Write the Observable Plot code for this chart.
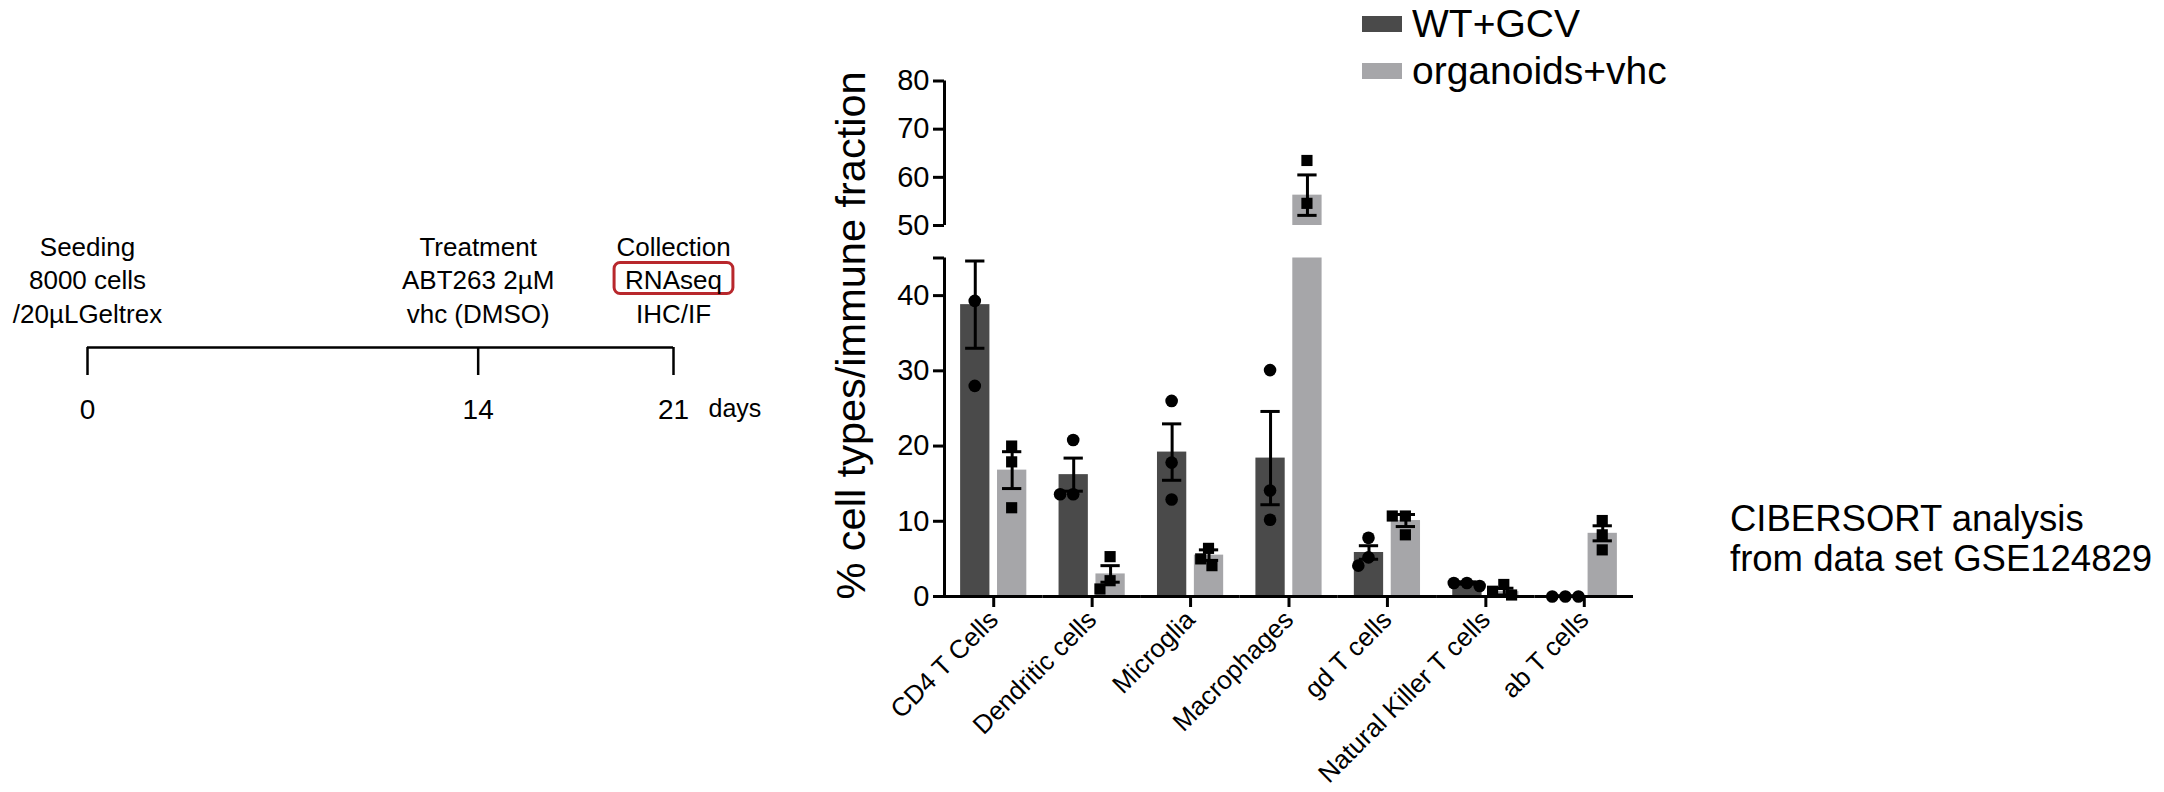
<!DOCTYPE html>
<html>
<head>
<meta charset="utf-8">
<script src="https://cdn.jsdelivr.net/npm/d3@7"></script>
<script src="https://cdn.jsdelivr.net/npm/@observablehq/plot@0.6"></script>
<style>
html, body { margin: 0; padding: 0; background: #fff; }
#page { position: relative; width: 2164px; height: 792px; overflow: hidden; background: #fff;
        font-family: "Liberation Sans", Arial, Helvetica, sans-serif; color: #000; }
#page > * { position: absolute; }
#caption { left: 1730px; top: 499px; font-size: 36.5px; line-height: 40px; white-space: nowrap; }
.lg-swatch > svg { margin-right: 10px !important; }
</style>
</head>
<body>
<div id="page"></div>
<script>
// ---------------- data ----------------
const categories = ["CD4 T Cells", "Dendritic cells", "Microglia", "Macrophages", "gd T cells", "Natural Killer T cells", "ab T cells"];
const series = ["WT+GCV", "organoids+vhc"];
const seriesColors = ["#4a4a4a", "#a6a6a9"];

const wtMean  = [38.8, 16.2, 19.2, 18.4, 5.85, 1.8, 0.05];
const wtSem   = [5.8, 2.2, 3.75, 6.2, 0.9, 0.15, 0.05];
const orgMean = [16.8, 3.0, 5.5, 56.3, 10.1, 0.65, 8.4];
const orgSem  = [2.45, 1.1, 0.7, 4.2, 0.8, 0.45, 1.0];

const wtPoints  = [[39.3, 28.0], [20.8, 13.6, 13.6], [26.0, 17.8, 12.9], [30.1, 14.1, 10.2], [7.8, 5.2, 4.1], [1.8, 1.8, 1.4], [0, 0, 0]];
const orgPoints = [[20.0, 17.9, 11.8], [5.3, 2.1, 1.0], [6.4, 5.0, 4.1], [63.5, 54.6], [10.7, 10.7, 8.2], [1.6, 0.7, 0.2], [10.1, 8.2, 6.2]];

const yTicks = [0, 10, 20, 30, 40, 50, 60, 70, 80];
const yBreak = [45, 50];
const yLabel = "% cell types/immune fraction";

const timelineDays = [0, 14, 21];
const timelineNotes = [["Seeding", "8000 cells", "/20µLGeltrex"], ["Treatment", "ABT263 2µM", "vhc (DMSO)"], ["Collection", "RNAseq", "IHC/IF"]];
const timelineUnit = "days";
const highlightNote = "RNAseq";
const captionLines = ["CIBERSORT analysis", "from data set GSE124829"];

// ---------------- tables built from the arrays ----------------
const means = [wtMean, orgMean], sems = [wtSem, orgSem], pts = [wtPoints, orgPoints];
const stats = series.flatMap((s, j) => categories.map((c, i) => ({
  cat: c, series: s, mean: means[j][i], lo: means[j][i] - sems[j][i], hi: means[j][i] + sems[j][i]
})));
const bars = stats.flatMap(d => d.mean > yBreak[1]
  ? [{...d, y1: 0, y2: yBreak[0]}, {...d, y1: yBreak[1], y2: d.mean}]
  : [{...d, y1: 0, y2: d.mean}]);
const points = series.flatMap((s, j) => categories.flatMap((c, i) => pts[j][i].map(v => ({cat: c, series: s, value: v}))));
const axisSegments = [{y1: yTicks[0], y2: yBreak[0]}, {y1: yBreak[1], y2: yTicks[yTicks.length - 1]}];

// ---------------- layout ----------------
const FONT = '"Liberation Sans", Arial, Helvetica, sans-serif';
const W = 2164, H = 792, ML = 944, MR = 531, MT = 74, MB = 196;
const pad = {inner: 0.206, outer: 0.437};
const step = (W - ML - MR) / categories.length;
const sub = d3.scaleBand(series, [0, step]).paddingInner(pad.inner).paddingOuter(pad.outer);
const shift = s => sub(s) + sub.bandwidth() / 2 - step / 2;

const page = document.getElementById("page");

function buildChart(dxOf) {
  return Plot.plot({
    width: W, height: H,
    marginLeft: ML, marginRight: MR, marginTop: MT, marginBottom: MB,
    style: {fontFamily: FONT, color: "#000", background: "transparent", overflow: "visible", maxWidth: "none"},
    fx: {domain: categories, padding: 0, round: false},
    x: {domain: series, paddingInner: pad.inner, paddingOuter: pad.outer, round: false, axis: null},
    y: {type: "linear", domain: [yTicks[0], yBreak[0], yBreak[1], yTicks[yTicks.length - 1]], range: [596, 257.5, 225, 80.5], axis: null},
    color: {domain: series, range: seriesColors},
    marks: [
      Plot.barY(bars, {fx: "cat", x: "series", y1: "y1", y2: "y2", fill: "series"}),
      Plot.ruleX(stats, {fx: "cat", x: "series", y1: "lo", y2: "hi", stroke: "#000", strokeWidth: 3}),
      Plot.tickY(stats, {fx: "cat", x: "series", y: "hi", stroke: "#000", strokeWidth: 3, insetLeft: 5, insetRight: 5}),
      Plot.tickY(stats, {fx: "cat", x: "series", y: "lo", stroke: "#000", strokeWidth: 3, insetLeft: 5, insetRight: 5}),
      ...series.map((s, j) => Plot.dot(points.filter(d => d.series === s),
        Plot.dodgeX({anchor: "middle", padding: 0.5}, {
          fx: "cat", y: "value", r: 6.3, fill: "#000", stroke: "none",
          symbol: j === 0 ? "circle" : "square", dx: dxOf(s)
        }))),
      Plot.ruleY([0], {stroke: "#000", strokeWidth: 3}),
      Plot.ruleX(axisSegments, {fx: () => categories[0], x: null, y1: "y1", y2: "y2", dx: -step / 2, stroke: "#000", strokeWidth: 3}),
      Plot.axisY({ticks: [...yTicks, yBreak[0]], tickFormat: d => d === yBreak[0] ? null : String(d),
        tickSize: 11, tickPadding: 4, fontSize: 29, strokeWidth: 3, label: null}),
      Plot.axisY({ticks: [], label: yLabel, labelAnchor: "center", labelArrow: "none", labelOffset: 109, fontSize: 41.5}),
      Plot.axisFx({anchor: "bottom", tickSize: 11, tickPadding: 8, tickRotate: -45, fontSize: 26, strokeWidth: 3, label: null})
    ]
  });
}

// first pass, then centre each series' dots on its bar as measured from the rendered scales
let chart = buildChart(shift);
chart.style.left = "0px"; chart.style.top = "0px";
page.appendChild(chart);
try {
  const barEls = [...chart.querySelectorAll('g[aria-label="bar"] rect')];
  const dotGroups = [...chart.querySelectorAll('g[aria-label="dot"]')];
  const corr = {};
  series.forEach((s, j) => {
    const bi = bars.findIndex(b => b.series === s && b.cat === categories[0]);
    const barEl = barEls.find(e => e.__data__ === bi);
    const dotEl = dotGroups[j] ? [...dotGroups[j].querySelectorAll("circle, path")].find(e => e.__data__ === 0) : null;
    if (barEl && dotEl) {
      const rb = barEl.getBoundingClientRect(), rd = dotEl.getBoundingClientRect();
      corr[s] = (rb.left + rb.width / 2) - (rd.left + rd.width / 2);
    }
  });
  if (series.some(s => Math.abs(corr[s] || 0) > 0.5)) {
    const fixed = buildChart(s => shift(s) + (corr[s] || 0));
    fixed.style.left = "0px"; fixed.style.top = "0px";
    page.replaceChild(fixed, chart);
    chart = fixed;
  }
} catch (e) { console.error(e); }

// ---------------- timeline ----------------
const timeline = Plot.plot({
  width: 800, height: 440,
  marginLeft: 87, marginRight: 127, marginTop: 347, marginBottom: 65,
  style: {fontFamily: FONT, color: "#000", background: "transparent", overflow: "visible", maxWidth: "none"},
  x: {domain: [timelineDays[0], timelineDays[timelineDays.length - 1]], axis: null},
  y: {domain: [0, 1], range: [347, 375], axis: null},
  marks: [
    Plot.ruleY([{x1: timelineDays[0], x2: timelineDays[timelineDays.length - 1]}], {x1: "x1", x2: "x2", y: () => 0, stroke: "#000", strokeWidth: 2.5}),
    Plot.ruleX(timelineDays, {x: d => d, y1: () => 0, y2: () => 1, stroke: "#000", strokeWidth: 2.5}),
    Plot.axisX({ticks: timelineDays, tickSize: 0, tickPadding: 24, fontSize: 28, label: null}),
    Plot.text(timelineDays, {x: d => d, y: () => 0, text: (d, i) => timelineNotes[i].join("\n"),
      lineAnchor: "bottom", lineHeight: 1.27, dy: -25, fontSize: 26, fill: "#000"}),
    Plot.text([timelineUnit], {x: () => timelineDays[timelineDays.length - 1], y: () => 1, text: d => d,
      textAnchor: "start", lineAnchor: "top", dx: 35, dy: 24, fontSize: 25, fill: "#000"})
  ]
});
timeline.style.left = "0px";
timeline.style.top = "0px";
page.appendChild(timeline);

try {
  const tspan = [...timeline.querySelectorAll("tspan, text")].find(t => t.textContent === highlightNote);
  if (tspan) {
    const textEl = tspan.tagName === "text" ? tspan : tspan.closest("text");
    const bb = tspan.getBBox();
    const r = document.createElementNS("http://www.w3.org/2000/svg", "rect");
    r.setAttribute("x", bb.x - 11);
    r.setAttribute("y", bb.y - 3);
    r.setAttribute("width", bb.width + 22);
    r.setAttribute("height", bb.height + 1);
    r.setAttribute("rx", 6);
    r.setAttribute("fill", "none");
    r.setAttribute("stroke", "#b8272c");
    r.setAttribute("stroke-width", 3);
    if (textEl.getAttribute("transform")) r.setAttribute("transform", textEl.getAttribute("transform"));
    textEl.parentNode.insertBefore(r, textEl);
  }
} catch (e) { console.error(e); }

// ---------------- legend ----------------
const legend = Plot.legend({
  color: {domain: series, range: seriesColors},
  swatchWidth: 40, swatchHeight: 16, columns: 1, className: "lg",
  style: {fontSize: "39px", fontFamily: FONT, lineHeight: "46px", color: "#000"}
});
legend.style.left = "1362px";
legend.style.top = "1px";
legend.style.width = "500px";
page.appendChild(legend);

// ---------------- caption ----------------
const cap = document.createElement("div");
cap.id = "caption";
cap.innerHTML = captionLines.join("<br>");
page.appendChild(cap);
</script>
</body>
</html>
